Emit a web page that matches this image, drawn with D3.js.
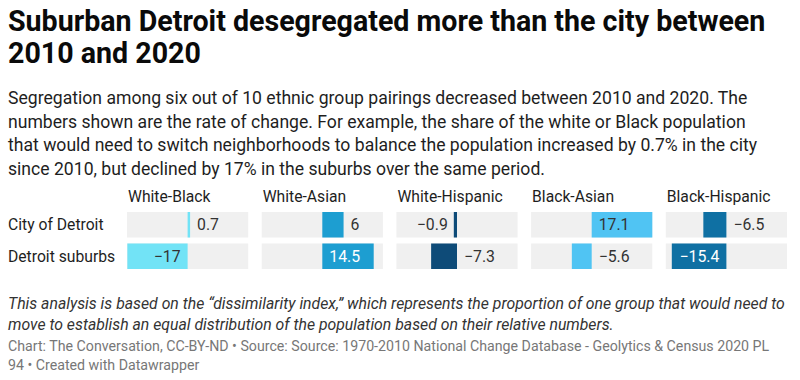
<!DOCTYPE html>
<html>
<head>
<meta charset="utf-8">
<script src="https://cdn.jsdelivr.net/npm/d3@7"></script>
<style>
  body { margin: 0; background: #fff; }
  svg text { font-family: Roboto, "Noto Sans", sans-serif; }
</style>
</head>
<body>
<div id="viz"></div>
<script>
/* small multiples of diverging bars, datawrapper style */

var pairings = ['White-Black', 'White-Asian', 'White-Hispanic', 'Black-Asian', 'Black-Hispanic'],
    places = ['City of Detroit', 'Detroit suburbs'],
    cityValues = [0.7, 6, -0.9, 17.1, -6.5],
    suburbValues = [-17, 14.5, -7.3, -5.6, -15.4],
    pairColors = ['#72e3f6', '#1d9ed1', '#0e4b78', '#50c4f3', '#0f70a3'],
    darkText = [false, true, true, false, true];

var titleLines = ['Suburban Detroit desegregated more than the city between', '2010 and 2020'],
    subLines = [
      'Segregation among six out of 10 ethnic group pairings decreased between 2010 and 2020. The',
      'numbers shown are the rate of change. For example, the share of the white or Black population',
      'that would need to switch neighborhoods to balance the population increased by 0.7% in the city',
      'since 2010, but declined by 17% in the suburbs over the same period.'
    ],
    noteLines = [
      'This analysis is based on the \u201cdissimilarity index,\u201d which represents the proportion of one group that would need to',
      'move to establish an equal distribution of the population based on their relative numbers.'
    ],
    sourceLines = [
      'Chart: The Conversation, CC-BY-ND \u2022 Source: Source: 1970-2010 National Change Database - Geolytics & Census 2020 PL',
      '94 \u2022 Created with Datawrapper'
    ];

var width = 800,
    height = 380;

var svg = d3.select('#viz').append('svg')
    .attr('width', width)
    .attr('height', height);

// header text
svg.append('g').selectAll('text').data(titleLines)
  .enter().append('text')
    .attr('x', 8)
    .attr('y', function(d, i) { return 31 + i * 32; })
    .attr('font-size', '28.6px')
    .attr('font-weight', 700)
    .attr('fill', '#0a0a0a')
    .text(function(d) { return d; });

svg.append('g').selectAll('text').data(subLines)
  .enter().append('text')
    .attr('x', 8)
    .attr('y', function(d, i) { return 104 + i * 23.7; })
    .attr('font-size', '17.6px')
    .attr('fill', '#1e1e1e')
    .text(function(d) { return d; });

// build rows of data
var data = [];
pairings.forEach(function(p, i) {
  data.push({ pair: p, place: places[0], value: cityValues[i], color: pairColors[i], dark: darkText[i] });
  data.push({ pair: p, place: places[1], value: suburbValues[i], color: pairColors[i], dark: darkText[i] });
});

var xPanel = d3.scaleBand()
    .domain(pairings)
    .range([127, 787])
    .paddingInner(0.1);

var yRow = d3.scaleBand()
    .domain(places)
    .range([212, 269])
    .paddingInner(0.19);

var maxAbs = d3.max(data, function(d) { return Math.abs(d.value); });

var xVal = d3.scaleLinear()
    .domain([-maxAbs, maxAbs])
    .range([0, xPanel.bandwidth()]);

// column headers
svg.append('g').selectAll('text').data(pairings)
  .enter().append('text')
    .attr('x', function(d) { return xPanel(d) + 1; })
    .attr('y', 202)
    .attr('font-size', '15.7px')
    .attr('fill', '#1e1e1e')
    .text(function(d) { return d; });

// row labels
svg.append('g').selectAll('text').data(places)
  .enter().append('text')
    .attr('x', 8)
    .attr('y', function(d) { return yRow(d) + yRow.bandwidth() / 2; })
    .attr('dy', '0.35em')
    .attr('font-size', '15.7px')
    .attr('fill', '#1e1e1e')
    .text(function(d) { return d; });

var cells = svg.append('g').selectAll('g.cell').data(data)
  .enter().append('g')
    .attr('class', 'cell')
    .attr('transform', function(d) {
      return 'translate(' + xPanel(d.pair) + ',' + yRow(d.place) + ')';
    });

cells.append('rect')
    .attr('width', xPanel.bandwidth())
    .attr('height', yRow.bandwidth())
    .attr('fill', '#f0f0f0');

cells.append('rect')
    .attr('x', function(d) { return xVal(Math.min(0, d.value)); })
    .attr('width', function(d) { return Math.abs(xVal(d.value) - xVal(0)); })
    .attr('height', yRow.bandwidth())
    .attr('fill', function(d) { return d.color; });

var fmt = function(v) { return (v < 0 ? '\u2212' : '') + Math.abs(v); };

cells.append('text')
    .attr('y', yRow.bandwidth() / 2)
    .attr('dy', '0.36em')
    .attr('font-size', '15.8px')
    .each(function(d) {
      var t = d3.select(this),
          barW = Math.abs(xVal(d.value) - xVal(0)),
          inside = barW > 45;
      if (inside) {
        t.attr('fill', d.dark ? '#fff' : '#333')
         .attr('x', d.value < 0 ? xVal(0) - 7 : xVal(0) + 7)
         .attr('text-anchor', d.value < 0 ? 'end' : 'start');
      } else if (d.value < 0 && barW < 5) {
        t.attr('fill', '#333')
         .attr('x', xVal(d.value) - 6)
         .attr('text-anchor', 'end');
      } else {
        t.attr('fill', '#333')
         .attr('x', Math.max(xVal(d.value), xVal(0)) + 7)
         .attr('text-anchor', 'start');
      }
      t.text(fmt(d.value));
    });

// footer
svg.append('g').selectAll('text').data(noteLines)
  .enter().append('text')
    .attr('x', 8)
    .attr('y', function(d, i) { return 309 + i * 20.5; })
    .attr('font-size', '15.8px')
    .attr('font-style', 'italic')
    .attr('fill', '#333')
    .text(function(d) { return d; });

svg.append('g').selectAll('text').data(sourceLines)
  .enter().append('text')
    .attr('x', 8)
    .attr('y', function(d, i) { return 351 + i * 19; })
    .attr('font-size', '14.2px')
    .attr('fill', '#777')
    .text(function(d) { return d; });
</script>
</body>
</html>
